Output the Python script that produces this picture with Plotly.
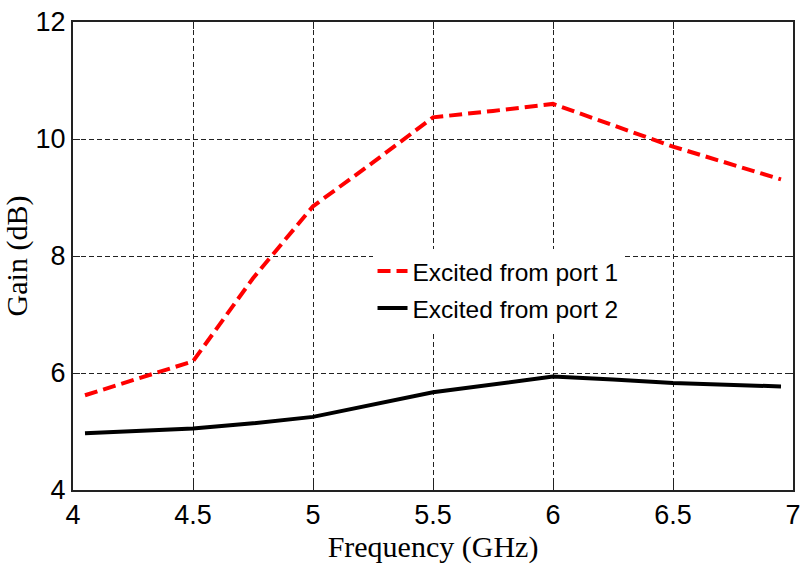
import plotly.graph_objects as go

freq_port1 = [4.05, 4.5, 4.75, 5.0, 5.25, 5.5, 5.75, 6.0, 6.5, 6.95]
gain_port1 = [5.62, 6.2, 7.62, 8.85, 9.6, 10.37, 10.48, 10.6, 9.87, 9.31]

freq_port2 = [4.05, 4.5, 4.75, 5.0, 5.5, 6.0, 6.25, 6.5, 6.95]
gain_port2 = [4.97, 5.05, 5.14, 5.25, 5.67, 5.94, 5.89, 5.83, 5.77]

x_ticks = [4, 4.5, 5, 5.5, 6, 6.5, 7]
y_ticks = [4, 6, 8, 10, 12]

fig = go.Figure()
fig.add_trace(go.Scatter(
    x=freq_port1, y=gain_port1, mode="lines", name="Excited from port 1",
    legendgroup="a",
    line=dict(color="#ff0000", width=4, dash="13px,6px"),
))
fig.add_trace(go.Scatter(
    x=freq_port2, y=gain_port2, mode="lines", name="Excited from port 2",
    legendgroup="b",
    line=dict(color="#000000", width=4),
))

tick_font = dict(family="Liberation Sans, Arial, sans-serif", size=27, color="#000")
title_font = dict(family="Liberation Serif, Times New Roman, serif", size=30, color="#000")

fig.update_layout(
    width=808, height=568,
    margin=dict(l=73, r=7, t=20, b=78),
    paper_bgcolor="white", plot_bgcolor="white",
    showlegend=True,
    legend=dict(
        x=0.416, y=0.428, xanchor="left", yanchor="middle",
        bgcolor="white", borderwidth=0,
        font=dict(family="Liberation Sans, Arial, sans-serif", size=24.5, color="#000"),
        traceorder="grouped", tracegroupgap=2,
    ),
    xaxis=dict(
        range=[4, 7], tickvals=x_ticks, ticktext=[f"{v:g}" for v in x_ticks],
        showline=True, linecolor="#222", linewidth=2, mirror="ticks",
        ticks="inside", ticklen=7, tickcolor="#222", tickwidth=1,
        showgrid=True, gridcolor="#222", gridwidth=1, griddash="5px,3px",
        zeroline=False, tickfont=tick_font,
        title=dict(text="Frequency (GHz)", font=title_font, standoff=6),
    ),
    yaxis=dict(
        range=[4, 12], tickvals=y_ticks, ticktext=[f"{v:g}" for v in y_ticks],
        showline=True, linecolor="#222", linewidth=2, mirror="ticks",
        ticks="inside", ticklen=7, tickcolor="#222", tickwidth=1,
        showgrid=True, gridcolor="#222", gridwidth=1, griddash="5px,3px",
        zeroline=False, tickfont=tick_font,
        title=dict(text="Gain (dB)", font=title_font, standoff=0),
    ),
)

fig.write_html("out.html")
